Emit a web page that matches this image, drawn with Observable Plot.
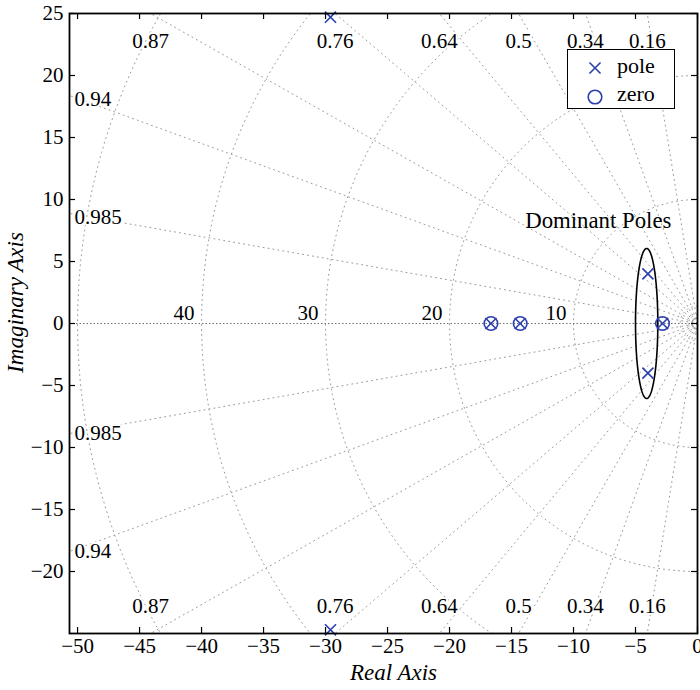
<!DOCTYPE html>
<html><head><meta charset="utf-8">
<script src="https://cdn.jsdelivr.net/npm/d3@7"></script>
<script src="https://cdn.jsdelivr.net/npm/@observablehq/plot@0.6"></script>
<style>
body{margin:0;background:#fff;}
#wrap{position:relative;width:700px;height:690px;}
#wrap svg text{font-family:'Liberation Serif','DejaVu Serif',serif;}
#legend{position:absolute;left:567px;top:49px;width:106px;height:58px;border:1.5px solid #000;background:#fff;}
</style></head><body><div id="wrap"></div>
<script>
// ---- data ----
const poleRe = [-29.6, -29.6, -16.66, -14.3, -4.0, -4.0, -2.82];
const poleIm = [24.7, -24.7, 0, 0, 4.0, -4.0, 0];
const zeroRe = [-16.66, -14.3, -2.82];
const zeroIm = [0, 0, 0];
const zetaValues = [0.16, 0.34, 0.5, 0.64, 0.76, 0.87, 0.94, 0.985];
const zetaLabels = ["0.16", "0.34", "0.5", "0.64", "0.76", "0.87", "0.94", "0.985"];
const wnCircles = [0.7, 1.4, 10, 20, 30, 40, 50];
const wnLabels = [10, 20, 30, 40];
const xTicks = [-50, -45, -40, -35, -30, -25, -20, -15, -10, -5, 0];
const yTicks = [-20, -15, -10, -5, 0, 5, 10, 15, 20, 25];
const xDomain = [-50.65, 0];
const yDomain = [-25, 25];
const ellipseCx = -4.1, ellipseCy = 0, ellipseRx = 0.9, ellipseRy = 6.05;
const noteText = "Dominant Poles", noteX = -8.0, noteY = 8.25;
const legendNames = ["pole", "zero"];
const xLabel = "Real Axis", yLabel = "Imaginary Axis";

// ---- derived tables ----
const blue = "#2b3fae";
const FONT = "'Liberation Serif', 'DejaVu Serif', serif";
const poles = poleRe.map((re, i) => ({re, im: poleIm[i]}));
const zeros = zeroRe.map((re, i) => ({re, im: zeroIm[i]}));
const rays = zetaValues.flatMap(z => [1, -1].flatMap(s => [
  {k: z + "_" + s, x: 0, y: 0},
  {k: z + "_" + s, x: -100 * z, y: s * 100 * Math.sqrt(1 - z * z)}
]));
const circ = wnCircles.flatMap(r => d3.range(90, 270.5, 1).map(a => ({r, x: r * Math.cos(a * Math.PI / 180), y: r * Math.sin(a * Math.PI / 180)})));
const topLab = [], leftLab = [];
zetaValues.forEach((z, i) => {
  const s = Math.sqrt(1 - z * z);
  const xt = -yDomain[1] * z / s;
  if (xt >= xDomain[0]) topLab.push({x: xt, t: zetaLabels[i]});
  else leftLab.push({y: -xDomain[0] * s / z, t: zetaLabels[i]});
});
const ell = d3.range(0, 361, 2).map(a => ({x: ellipseCx + ellipseRx * Math.cos(a * Math.PI / 180), y: ellipseCy + ellipseRy * Math.sin(a * Math.PI / 180)}));

const grid = {stroke: "#9a9a9a", strokeWidth: 1, strokeDasharray: "1,4", clip: true};
const halo = {stroke: "white", strokeWidth: 4, fill: "black", fontSize: 21, fontFamily: FONT};

const chart = Plot.plot({
  width: 700, height: 690,
  marginLeft: 69, marginRight: 3, marginTop: 13, marginBottom: 57,
  style: {fontFamily: FONT, fontSize: "21px", background: "white"},
  x: {domain: xDomain},
  y: {domain: yDomain},
  marks: [
    Plot.line(circ, {x: "x", y: "y", z: "r", ...grid}),
    Plot.line(rays, {x: "x", y: "y", z: "k", ...grid}),
    Plot.ruleY([0], {stroke: "#707070", strokeDasharray: "1.5,2"}),
    Plot.text(topLab, {x: "x", text: "t", frameAnchor: "top", dy: 20, ...halo}),
    Plot.text(topLab, {x: "x", text: "t", frameAnchor: "bottom", dy: -21, ...halo}),
    Plot.text(leftLab, {y: "y", text: "t", frameAnchor: "left", textAnchor: "start", dx: 5, dy: 4, ...halo}),
    Plot.text(leftLab, {y: d => -d.y, text: "t", frameAnchor: "left", textAnchor: "start", dx: 5, dy: 0, ...halo}),
    Plot.text(wnLabels, {x: d => -d, y: () => 0, text: d => String(d), textAnchor: "end", dx: -7, dy: -10, ...halo}),
    Plot.line(ell, {x: "x", y: "y", stroke: "black", strokeWidth: 1.6}),
    Plot.text([noteText], {x: () => noteX, y: () => noteY, text: d => d, fontSize: 22.8, fontFamily: FONT, fill: "black"}),
    Plot.dot(zeros, {x: "re", y: "im", symbol: "circle", r: 6.8, stroke: blue, fill: "none", strokeWidth: 1.6}),
    Plot.dot(poles, {x: "re", y: "im", symbol: "times", r: 5.1, stroke: blue, strokeWidth: 1.6}),
    Plot.frame({stroke: "black", strokeWidth: 1.8}),
    Plot.tickX(xTicks, {x: d => d, insetTop: 614, stroke: "black", strokeWidth: 1.2}),
    Plot.tickX(xTicks, {x: d => d, insetBottom: 614, stroke: "black", strokeWidth: 1.2}),
    Plot.tickY(yTicks, {y: d => d, insetRight: 622, stroke: "black", strokeWidth: 1.2}),
    Plot.tickY(yTicks, {y: d => d, insetLeft: 622, stroke: "black", strokeWidth: 1.2}),
    Plot.axisX(xTicks, {tickSize: 0, tickPadding: 5, label: null, fontSize: 21, fontFamily: FONT, fill: "black"}),
    Plot.axisY(yTicks, {tickSize: 0, tickPadding: 6, label: null, fontSize: 21, fontFamily: FONT, fill: "black"}),
    Plot.text([xLabel], {frameAnchor: "bottom", textAnchor: "middle", text: d => d, dy: 46, dx: 10, fontStyle: "italic", fontSize: 23, fontFamily: FONT, fill: "black"}),
    Plot.text([yLabel], {frameAnchor: "left", textAnchor: "middle", text: d => d, rotate: -90, dx: -54, dy: -21, fontStyle: "italic", fontSize: 23, fontFamily: FONT, fill: "black"})
  ]
});
const wrap = document.getElementById("wrap");
wrap.appendChild(chart);

// legend overlay
const lg = document.createElement("div");
lg.id = "legend";
wrap.appendChild(lg);
const ls = d3.select(lg).append("svg").attr("width", 106).attr("height", 58);
const symTimes = d3.symbol(d3.symbolTimes, 5.1 * 5.1 * Math.PI)();
const symCircle = d3.symbol(d3.symbolCircle, 6.8 * 6.8 * Math.PI)();
ls.append("path").attr("d", symTimes).attr("transform", "translate(27,18)").attr("fill", "none").attr("stroke", blue).attr("stroke-width", 1.6);
ls.append("path").attr("d", symCircle).attr("transform", "translate(27,47)").attr("fill", "none").attr("stroke", blue).attr("stroke-width", 1.6);
ls.selectAll("text").data(legendNames).join("text")
  .attr("x", 49).attr("y", (d, i) => i === 0 ? 23 : 51)
  .attr("font-family", FONT).attr("font-size", 22).attr("fill", "black").text(d => d);
</script></body></html>
